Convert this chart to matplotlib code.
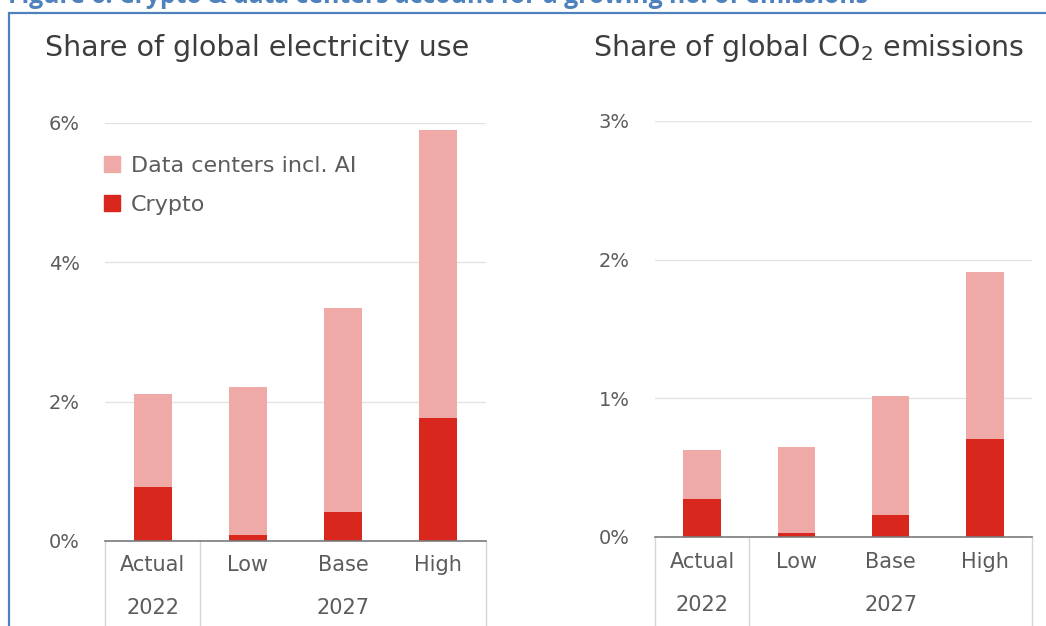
import matplotlib
matplotlib.use("Agg")
import matplotlib.pyplot as plt
from matplotlib.patches import Rectangle, Patch
from matplotlib.transforms import blended_transform_factory
from matplotlib.ticker import FuncFormatter

plt.rcParams['font.family'] = ['DejaVu Sans']

# ---- data ----
scenarios = ["Actual", "Low", "Base", "High"]
year_groups = ["2022", "2027"]
elec_crypto = [0.77, 0.09, 0.41, 1.76]
elec_total = [2.11, 2.21, 3.35, 5.90]
co2_crypto = [0.275, 0.03, 0.16, 0.71]
co2_total = [0.63, 0.65, 1.02, 1.91]
elec_ticks = [0, 2, 4, 6]
co2_ticks = [0, 1, 2, 3]
series_names = ["Data centers incl. AI", "Crypto"]
panel_titles = ["Share of global electricity use", "Share of global CO$_2$ emissions"]
fig_title = "Figure 6: Crypto & data centers account for a growing no. of emissions"

LIGHT = "#EFA9A6"
DARK = "#D9271D"
TXT = "#3d3d3d"
TICK = "#5c5c5c"
BLUE = "#4F81BD"

W, H = 1046, 626
fig = plt.figure(figsize=(W / 100, H / 100), dpi=100)

def fx(px):
    return px / W

def fy(py):
    return 1 - py / H

# blue frame
fig.patches.append(Rectangle((fx(9), fy(700)), fx(1100), fy(13) - fy(700),
                             transform=fig.transFigure, fill=False,
                             edgecolor=BLUE, linewidth=1.6, zorder=0))
fig.text(fx(8), fy(3), fig_title, color=BLUE, fontsize=17.8, fontweight='bold',
         family=['Open Sans', 'DejaVu Sans'], va='baseline', ha='left')

panels = [
    dict(box=(105, 486, 541, 123), crypto=elec_crypto, total=elec_total, ticks=elec_ticks,
         title=panel_titles[0], title_x=45, lab_y=565, yr_y=608, legend=True),
    dict(box=(655, 1032, 537, 121), crypto=co2_crypto, total=co2_total, ticks=co2_ticks,
         title=panel_titles[1], title_x=593, lab_y=562, yr_y=605, legend=False),
]

for p in panels:
    x0, x1, yb, yt = p["box"]
    ax = fig.add_axes([fx(x0), fy(yb), fx(x1 - x0), fy(yt) - fy(yb)])
    xs = list(range(len(scenarios)))
    dc = [t - c for t, c in zip(p["total"], p["crypto"])]
    ax.bar(xs, p["crypto"], width=0.4, color=DARK, zorder=3, label=series_names[1])
    ax.bar(xs, dc, bottom=p["crypto"], width=0.4, color=LIGHT, zorder=3, label=series_names[0])
    ax.set_xlim(-0.5, len(scenarios) - 0.5)
    ax.set_ylim(p["ticks"][0], p["ticks"][-1])
    ax.set_yticks(p["ticks"])
    ax.yaxis.set_major_formatter(FuncFormatter(lambda v, _: f"{v:g}%"))
    ax.tick_params(axis='y', length=0, pad=18, labelsize=14, labelcolor=TICK)
    ax.tick_params(axis='x', length=0, labelbottom=False)
    for s in ["top", "right", "left"]:
        ax.spines[s].set_visible(False)
    ax.spines["bottom"].set_color("#7a7a7a")
    ax.spines["bottom"].set_linewidth(1.2)
    ax.spines["bottom"].set_zorder(4)
    for t in p["ticks"][1:]:
        ax.axhline(t, color="#e3e3e3", linewidth=1, zorder=1)

    tr = blended_transform_factory(ax.transData, fig.transFigure)
    for sx in [-0.5, 0.5, len(scenarios) - 0.5]:
        ax.plot([sx, sx], [fy(yb), 0], transform=tr, color="#d5d5d5", linewidth=1,
                clip_on=False, zorder=2)
    for i, name in enumerate(scenarios):
        ax.text(i, fy(p["lab_y"]), name, transform=tr, ha='center', va='center',
                fontsize=15, color=TICK)
    ax.text(0, fy(p["yr_y"]), year_groups[0], transform=tr, ha='center', va='center',
            fontsize=15, color=TICK)
    ax.text((0.5 + len(scenarios) - 0.5) / 2, fy(p["yr_y"]), year_groups[1], transform=tr,
            ha='center', va='center', fontsize=15, color=TICK)

    fig.text(fx(p["title_x"]), fy(48), p["title"], fontsize=20.5, color=TXT,
             ha='left', va='center')

    if p["legend"]:
        handles = [Patch(color=LIGHT), Patch(color=DARK)]
        ax.legend(handles, series_names, loc='upper left',
                  bbox_to_anchor=(fx(84), fy(136)), bbox_transform=fig.transFigure,
                  frameon=False, fontsize=16, handlelength=0.72, handleheight=0.72,
                  handletextpad=0.5, labelspacing=0.85, labelcolor=TICK)

fig.savefig("out.png", dpi=100)
